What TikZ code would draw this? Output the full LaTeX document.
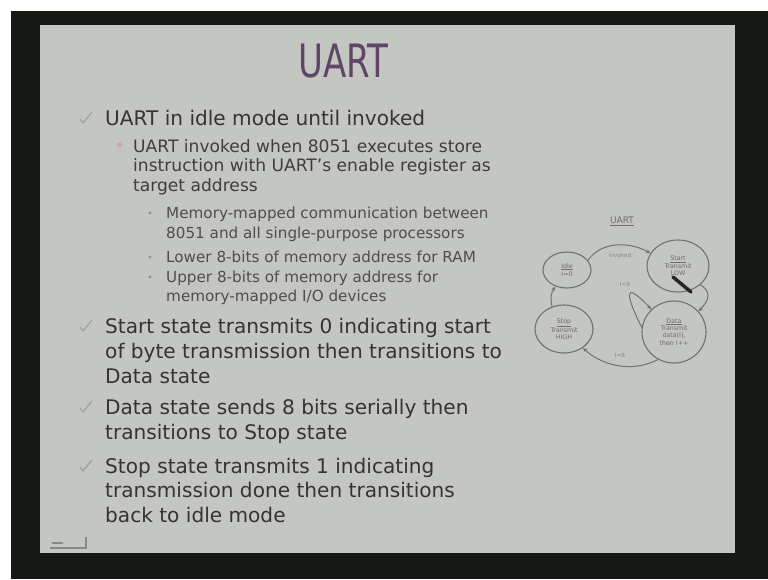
\documentclass[tikz,border=0pt]{standalone}
\usepackage{fontspec}
\setmainfont{DejaVu Sans}
\usetikzlibrary{shapes.geometric,arrows.meta}

\definecolor{framec}{RGB}{22,24,20}
\definecolor{slidec}{RGB}{196,198,194}
\definecolor{titlec}{RGB}{96,70,102}
\definecolor{txtA}{RGB}{52,52,52}
\definecolor{txtB}{RGB}{62,62,62}
\definecolor{txtC}{RGB}{78,78,78}
\definecolor{bulA}{RGB}{160,162,158}
\definecolor{bulB}{RGB}{214,160,178}
\definecolor{bulC}{RGB}{145,147,143}
\definecolor{diagc}{RGB}{112,114,110}
\definecolor{diagt}{RGB}{110,110,110}
\definecolor{labelc}{RGB}{135,137,133}

\tikzset{
  lineA/.style={anchor=base west, inner sep=0pt, text=txtA, font=\fontsize{20.1}{20}\selectfont},
  lineB/.style={anchor=base west, inner sep=0pt, text=txtB, font=\fontsize{17.1}{17}\selectfont},
  lineC/.style={anchor=base west, inner sep=0pt, text=txtC, font=\fontsize{15.2}{15}\selectfont},
  stbox/.style={ellipse, draw=diagc, line width=1.1pt, inner sep=0pt, align=center,
                text=diagt, font=\fontsize{6.3}{7.4}\selectfont},
  conn/.style={draw=diagc, line width=1pt, -{Stealth[length=4.5pt,width=3.8pt]}},
  elab/.style={inner sep=0pt, text=labelc, font=\fontsize{5.8}{6}\selectfont},
  chk/.style={draw=bulA, line width=1.3pt, line cap=round, line join=round},
}

\begin{document}
\begin{tikzpicture}[x=1pt,y=-1pt]
\useasboundingbox (0,0) rectangle (768,579);
% frame and slide
\fill[white] (0,0) rectangle (768,579);
\fill[framec] (11,11) rectangle (768,579);
\fill[slidec] (40,25) rectangle (735,553);

% title
\node[anchor=base, inner sep=0pt, text=titlec, font=\fontsize{46}{46}\selectfont, xscale=0.74] (title) at (343.5,77) {UART};

% first-level bullet marks
\foreach \b in {125,333,414,473}
  \draw[chk] (80,\b-6) -- (83,\b-2) -- (92,\b-13);

% second-level bullet
\fill[bulB] (119.5,145) circle (2.6);

% third-level bullets
\foreach \b in {218,262,282}
  \fill[bulC] (150,\b-5) circle (1.6);

% text lines
\node[lineA] (t1) at (105,125) {UART in idle mode until invoked};
\node[lineB] (t2) at (133,152) {UART invoked when 8051 executes store};
\node[lineB] (t3) at (133,171.5) {instruction with UART’s enable register as};
\node[lineB] (t4) at (133,191) {target address};
\node[lineC] (t5) at (166,218) {Memory-mapped communication between};
\node[lineC] (t6) at (166,238) {8051 and all single-purpose processors};
\node[lineC] (t7) at (166,262) {Lower 8-bits of memory address for RAM};
\node[lineC] (t8) at (166,282) {Upper 8-bits of memory address for};
\node[lineC] (t9) at (166,301) {memory-mapped I/O devices};
\node[lineA] (t10) at (105,333) {Start state transmits 0 indicating start};
\node[lineA] (t11) at (105,358) {of byte transmission then transitions to};
\node[lineA] (t12) at (105,383) {Data state};
\node[lineA] (t13) at (105,414) {Data state sends 8 bits serially then};
\node[lineA] (t14) at (105,439) {transitions to Stop state};
\node[lineA] (t15) at (105,473) {Stop state transmits 1 indicating};
\node[lineA] (t16) at (105,497.5) {transmission done then transitions};
\node[lineA] (t17) at (105,522) {back to idle mode};

% UART state machine
\node[text=diagt, inner sep=0pt, font=\fontsize{9}{9}\selectfont] (hd) at (622,221) {\underline{UART}};
\node[stbox, minimum width=48pt, minimum height=36pt] (idle) at (567,270) {\underline{Idle}\\[1pt]I=0};
\node[stbox, minimum width=62pt, minimum height=52pt] (start) at (678,266) {\underline{Start}\\Transmit\\LOW};
\node[stbox, minimum width=58pt, minimum height=48pt] (stop) at (564,329) {\underline{Stop}\\Transmit\\HIGH};
\node[stbox, minimum width=64pt, minimum height=62pt] (data) at (674,332) {\underline{Data}\\Transmit\\data(I),\\then I++};

\draw[conn] (idle.25) .. controls (600,243) and (626,240) .. (start.155);
\node[elab] (lbinv) at (620,255) {invoked};
\draw[conn] (start.-40) .. controls (712,292) and (709,300) .. (data.40);
\draw[conn] (data.172) .. controls (628,300) and (620,276) .. (data.135);
\node[elab] (lblt) at (625,284) {I<8};
\draw[conn] (data.240) .. controls (630,374) and (600,364) .. (stop.-45);
\node[elab] (lbeq) at (620,355) {I=8};
\draw[conn] (stop.118) to[bend left=25] (idle.235);

% pointer stroke over the Start state
\coordinate (pa) at (673,277);
\coordinate (pb) at (691,292);
\draw[line width=3.5pt, line cap=round, draw=black!85] (pa) -- (pb);

% navigation button, lower left
\coordinate (na) at (50,548);
\coordinate (nb) at (86,548);
\coordinate (nc) at (86,537);
\draw[draw=labelc, line width=1.1pt] (na) -- (nb) -- (nc);
\draw[draw=labelc, line width=1.1pt, -{Stealth[length=3.5pt]}] (52,543) -- (64,543);
\end{tikzpicture}
\end{document}
